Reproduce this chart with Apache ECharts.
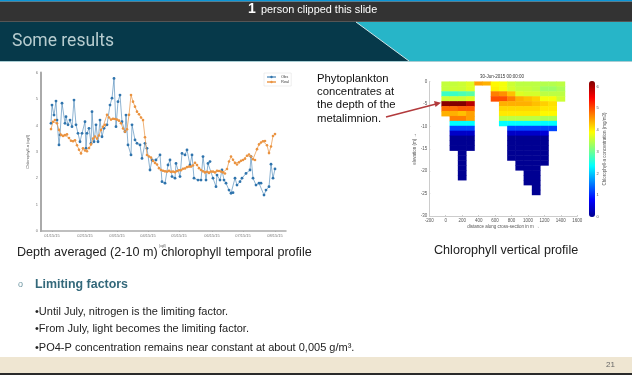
<!DOCTYPE html>
<html><head><meta charset="utf-8">
<style>html,body{margin:0;padding:0;background:#fff}#c{width:632px;height:375px;filter:blur(0.4px)}</style>
<script src="https://cdn.jsdelivr.net/npm/echarts@6/dist/echarts.min.js"></script>
</head><body><div id="c"></div>
<script>
// ---- temporal profile (days counted from the first tick) ----
const dateTickDays = [0,33,65,96,127,160,191,223];
const dateTickLabels = ['01/15/15','02/15/15','03/15/15','04/15/15','05/15/15','06/15/15','07/15/15','08/15/15'];
const obsDays = [-1,0,2,4,5,7,8,10,13,14,16,18,20,22,24,26,28,30,33,34,35,37,39,40,42,44,46,48,50,52,55,58,60,62,64,66,68,70,73,74,76,79,80,83,85,88,90,93,95,98,100,104,108,110,113,116,118,120,123,124,128,130,133,135,138,140,142,146,149,151,154,156,158,161,164,165,168,170,172,174,177,179,181,183,185,188,190,194,198,199,201,204,207,209,212,214,217,219,221,223];
const obsValues = [4.08,4.77,4.39,4.92,4.20,3.26,3.64,4.84,4.08,4.33,4.02,4.20,3.95,4.96,4.02,3.70,3.38,3.70,4.14,3.13,3.70,3.89,3.32,4.52,3.38,4.02,3.38,4.20,3.57,3.89,4.02,4.77,5.03,5.78,3.95,4.90,5.15,4.14,3.76,4.39,3.26,2.88,4.02,3.45,3.32,3.26,2.75,3.32,3.13,2.31,2.69,2.69,2.88,1.87,1.81,2.50,2.69,2.06,2.00,2.56,2.06,2.94,2.88,3.07,2.50,2.88,2.00,1.93,1.93,2.82,1.93,2.56,2.63,2.00,1.68,2.12,1.93,2.31,1.93,1.81,1.55,1.43,1.45,2.00,1.74,1.87,2.00,2.18,2.31,2.82,2.00,1.74,1.81,1.81,1.36,1.55,1.68,2.53,2.00,2.35];
const modelDays = [-1,1,3,5,7,9,11,13,15,17,19,21,23,25,27,29,31,33,35,37,39,41,43,45,47,49,51,53,55,57,59,61,63,65,67,69,71,73,75,77,79,81,83,85,87,89,91,93,95,97,99,101,103,105,107,109,111,113,115,117,119,121,123,125,127,129,131,133,135,137,139,141,143,145,147,149,151,153,155,157,159,161,163,165,167,169,171,173,175,177,179,181,183,185,187,189,191,193,195,197,199,201,203,205,207,209,211,213,215,217,219,221,223];
const modelValues = [3.86,4.14,4.20,4.08,3.83,3.64,3.60,3.63,3.66,3.52,3.42,3.40,3.44,3.25,3.08,2.94,3.13,3.05,3.02,3.14,3.28,3.50,3.58,3.50,3.62,3.83,3.95,4.02,4.40,4.30,4.22,4.25,4.24,4.22,4.18,4.08,3.88,3.76,3.85,4.40,5.15,4.90,4.71,4.52,4.42,4.30,4.20,3.55,2.88,2.82,2.78,2.65,2.58,2.52,2.38,2.31,2.28,2.26,2.25,2.28,2.24,2.25,2.23,2.27,2.30,2.30,2.36,2.37,2.42,2.44,2.44,2.48,2.58,2.50,2.38,2.31,2.26,2.22,2.24,2.20,2.25,2.25,2.22,2.28,2.27,2.25,2.22,2.18,2.35,2.63,2.82,2.70,2.58,2.52,2.60,2.66,2.69,2.74,2.85,2.90,2.82,2.72,2.69,3.10,3.28,3.35,3.40,3.41,3.25,2.95,3.20,3.60,3.67];

// ---- vertical section: one list per 100 m column, top row first ----
const columnDistances = [0,100,200,300,400,500,600,700,800,900,1000,1100,1200,1300,1400];
const rowThickness = 1.1;
const col0 = [3.55,3.55,2.7,3.6,6.2,4.8,4.4];
const col100 = [3.55,3.6,2.7,3.6,6.25,4.8,4.4,4.7,2.35,1.2,0.4,0.02,0.02,0.02];
const col200 = [3.6,3.6,2.8,3.6,6.25,4.9,4.3,4.7,2.35,1.2,0.4,0.02,0.02,0.02,0.02,0.02,0.02,0.02,0.02,0.02];
const col300 = [3.7,3.7,2.9,3.7,5.9,4.9,4.5,4.5,2.35,1.2,0.4,0.02,0.02,0.02];
const col400 = [4.5];
const col500 = [4.4];
const col600 = [3.95,4.0,4.7,5.0];
const col700 = [3.85,3.85,4.6,5.0,4.4,4.15,4.05,3.5,2.35];
const col800 = [3.6,3.65,4.3,4.7,4.4,4.15,4.05,3.5,2.35,1.2,0.4,0.02,0.02,0.02,0.02,0.02];
const col900 = [3.5,3.55,3.7,4.4,4.4,4.15,4.05,3.5,2.35,1.2,0.4,0.02,0.02,0.02,0.02,0.02,0.02,0.02];
const col1000 = [3.5,3.55,3.65,4.3,4.4,4.15,4.05,3.5,2.35,1.2,0.4,0.02,0.02,0.02,0.02,0.02,0.02,0.02,0.02,0.02,0.02];
const col1100 = [3.5,3.5,3.65,4.2,4.3,4.15,4.05,3.5,2.35,1.2,0.4,0.02,0.02,0.02,0.02,0.02,0.02,0.02,0.02,0.02,0.02,0.02,0.02];
const col1200 = [3.45,3.3,3.5,3.85,4.2,4.05,3.95,3.4,2.35,1.2,0.5,0.02,0.02,0.02,0.02,0.02,0.02];
const col1300 = [3.45,3.3,3.5,3.85,4.1,4.05,3.95,3.4,2.35,1.2];
const col1400 = [3.5,3.4,3.5,3.6];
const columns = [col0,col100,col200,col300,col400,col500,col600,col700,col800,col900,col1000,col1100,col1200,col1300,col1400];
const shallowColumnBottom = {400:-0.8,500:-0.8};
const colorBarTop = 6.26;
const jet = ['#00008f','#0000ff','#0080ff','#00ffff','#80ff80','#ffff00','#ff8000','#ff0000','#800000'];

const cells = [];
columns.forEach((col,i)=>{
  const x = columnDistances[i];
  col.forEach((v,r)=>{
    let top = -r*rowThickness, bottom = -(r+1)*rowThickness;
    if (shallowColumnBottom[x] !== undefined) bottom = shallowColumnBottom[x];
    cells.push([x,top,bottom,v]);
  });
});
const zip = (a,b)=>a.map((d,i)=>[d,b[i]]);

// ---- slide furniture ----
const FONT = '"Liberation Sans",Arial,sans-serif';
const txt = (x,y,text,size,color,extra)=>({type:'text',x,y,z:20,silent:true,style:Object.assign({text,fontSize:size,fill:color,fontFamily:FONT,verticalAlign:'middle',align:'left'},extra||{})});
const rect = (x,y,w,h,fill)=>({type:'rect',z:1,silent:true,shape:{x,y,width:w,height:h},style:{fill}});
const graphics = [
  rect(0,0,632,1.5,'#0a96d8'),
  rect(0,1.5,632,20,'#333333'),
  rect(0,21,632,1,'#555555'),
  rect(0,22,632,39,'#06394a'),
  {type:'polygon',z:2,silent:true,shape:{points:[[356,22],[632,22],[632,61],[409,61]]},style:{fill:'#27b5c8'}},
  {type:'line',z:3,silent:true,shape:{x1:356,y1:22,x2:409,y2:61},style:{stroke:'#cfe3e6',lineWidth:1}},
  rect(0,61,632,1,'#a9cdd3'),
  rect(0,357,632,16,'#efe6d2'),
  rect(0,373,632,2,'#2a2a2a'),
  txt(248,9,'1',14,'#ffffff',{fontWeight:'bold'}),
  txt(261,9.5,'person clipped this slide',10.9,'#ffffff'),
  txt(12,42,'Some results',17.5,'#b7cccf',{fontFamily:'Roboto,"Liberation Sans",sans-serif'}),
  txt(17,253,'Depth averaged (2-10 m) chlorophyll temporal profile',12.6,'#222222'),
  txt(159,246,'(ug/l)',3,'#444444'),
  txt(434,251,'Chlorophyll vertical profile',12.6,'#222222'),
  txt(317,78.5,'Phytoplankton',11.3,'#111111'),
  txt(317,91.5,'concentrates at',11.3,'#111111'),
  txt(317,105,'the depth of the',11.3,'#111111'),
  txt(317,118.5,'metalimnion.',11.3,'#111111'),
  txt(18,285,'o',9,'#6f97a3'),
  txt(35,285,'Limiting factors',12.4,'#33687a',{fontWeight:'bold'}),
  txt(35,311.5,'•Until July, nitrogen is the limiting factor.',11,'#222222'),
  txt(35,329,'•From July, light becomes the limiting factor.',11,'#222222'),
  txt(35,347.5,'•PO4-P concentration remains near constant at about 0,005 g/m³.',11,'#222222'),
  txt(606,365,'21',8,'#666666'),
  txt(502,76.5,'30-Jun-2015 00:00:00',4.5,'#333333',{align:'center'}),
  {type:'line',z:30,silent:true,shape:{x1:386,y1:117,x2:438,y2:103.5},style:{stroke:'#b23a3c',lineWidth:1.6}},
  {type:'polygon',z:30,silent:true,shape:{points:[[441,102.7],[434,101],[435.5,107]]},style:{fill:'#b23a3c'}}
];

const lightText = {color:'#777',fontSize:4,fontFamily:FONT};
const option = {
  animation:false,
  backgroundColor:'#fff',
  graphic:{elements:graphics},
  legend:{left:264,top:73,orient:'vertical',itemWidth:9,itemHeight:3,itemGap:1,padding:2,
    borderColor:'#ddd',borderWidth:0.5,textStyle:{fontSize:4,color:'#444',fontFamily:FONT},data:['Obs','Real']},
  grid:[
    {left:41,top:72.6,width:245,height:158.4},
    {left:429.3,top:81.7,width:148,height:134.3},
    {left:589,top:81,width:6,height:136}
  ],
  xAxis:[
    {gridIndex:0,type:'value',min:-11,max:234,splitLine:{show:false},
      axisLine:{onZero:false,lineStyle:{color:'#aaa',width:1.5}},
      axisTick:{customValues:dateTickDays,length:1,lineStyle:{color:'#aaa'}},
      axisLabel:Object.assign({customValues:dateTickDays,margin:3,
        formatter:v=>dateTickLabels[dateTickDays.indexOf(v)]||''},lightText)},
    {gridIndex:1,type:'value',min:-200,max:1600,interval:200,splitLine:{show:false},
      axisLine:{onZero:false,lineStyle:{color:'#ccc',width:1}},axisTick:{inside:true,length:1,lineStyle:{color:'#ccc'}},
      axisLabel:Object.assign({},lightText,{margin:2,fontSize:4.5,color:'#555',formatter:v=>String(v)}),
      name:'distance along cross-section in m →',nameLocation:'middle',nameGap:6,
      nameTextStyle:{fontSize:4.5,color:'#555',fontFamily:FONT}},
    {gridIndex:2,type:'value',min:0,max:1,show:false}
  ],
  yAxis:[
    {gridIndex:0,type:'value',min:0,max:6,interval:1,splitLine:{show:false},
      axisLine:{show:true,onZero:false,lineStyle:{color:'#aaa',width:2}},
      axisTick:{length:1,lineStyle:{color:'#aaa'}},
      axisLabel:Object.assign({margin:3},lightText),
      name:'Chlorophyll-a (ug/l)',nameLocation:'middle',nameGap:11,
      nameTextStyle:{fontSize:4,color:'#555',fontFamily:FONT}},
    {gridIndex:1,type:'value',min:-30,max:0,interval:5,splitLine:{show:false},
      axisLine:{show:true,onZero:false,lineStyle:{color:'#ccc',width:1}},
      axisTick:{inside:true,length:1,lineStyle:{color:'#ccc'}},
      axisLabel:Object.assign({},lightText,{margin:2,fontSize:4.5,color:'#555'}),
      name:'elevation (m) →',nameLocation:'middle',nameGap:9,
      nameTextStyle:{fontSize:4.5,color:'#555',fontFamily:FONT}},
    {gridIndex:2,type:'value',position:'right',min:0,max:colorBarTop,interval:1,splitLine:{show:false},
      axisLine:{show:false},axisTick:{show:false},
      axisLabel:Object.assign({},lightText,{margin:1.5,color:'#555',showMaxLabel:false}),
      name:'Chlorophyll-a concentration (mg/m3)',nameLocation:'middle',nameGap:6,
      nameTextStyle:{fontSize:4.5,color:'#555',fontFamily:FONT}}
  ],
  visualMap:{type:'continuous',seriesIndex:2,dimension:3,min:0,max:colorBarTop,
    left:589,top:81,itemWidth:6,itemHeight:136,padding:0,text:null,calculable:false,showLabel:false,
    textStyle:{fontSize:1,color:'rgba(0,0,0,0)'},inRange:{color:jet}},
  series:[
    {name:'Obs',type:'line',xAxisIndex:0,yAxisIndex:0,data:zip(obsDays,obsValues),
      symbol:'circle',symbolSize:2.8,showAllSymbol:true,
      lineStyle:{color:'#2f74ad',width:1,opacity:0.55},itemStyle:{color:'#2f74ad'},z:3},
    {name:'Real',type:'line',xAxisIndex:0,yAxisIndex:0,data:zip(modelDays,modelValues),
      symbol:'circle',symbolSize:2.6,showAllSymbol:true,
      lineStyle:{color:'#ea9340',width:1,opacity:0.7},itemStyle:{color:'#ea9340'},z:4},
    {type:'custom',xAxisIndex:1,yAxisIndex:1,data:cells,encode:{x:0,y:[1,2]},
      renderItem(params,api){
        const x=api.value(0), a=api.coord([x-50,api.value(1)]), b=api.coord([x+50,api.value(2)]);
        return {type:'rect',shape:{x:a[0]-0.25,y:a[1]-0.25,width:b[0]-a[0]+0.5,height:b[1]-a[1]+0.5},style:{fill:api.visual('color')}};
      }}
  ]
};
echarts.init(document.getElementById('c'),null,{renderer:'canvas'}).setOption(option);
</script></body></html>
